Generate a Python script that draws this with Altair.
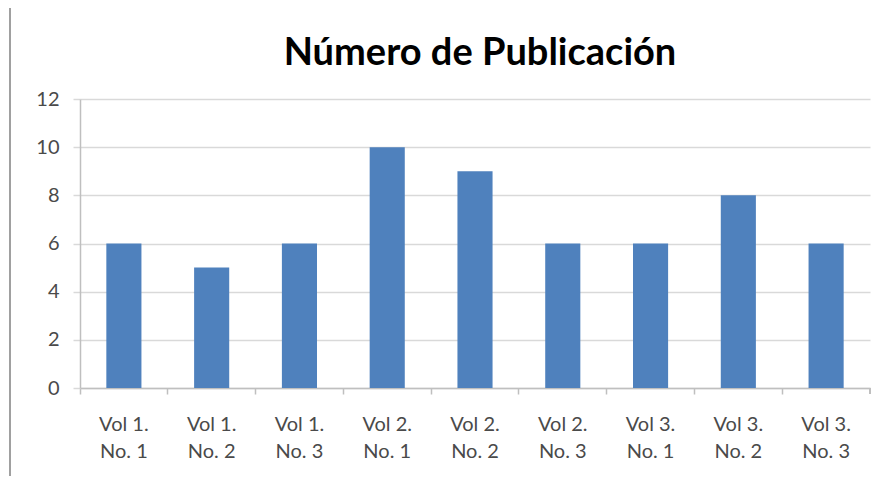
import altair as alt
import pandas as pd

categories = ["Vol 1. No. 1", "Vol 1. No. 2", "Vol 1. No. 3",
              "Vol 2. No. 1", "Vol 2. No. 2", "Vol 2. No. 3",
              "Vol 3. No. 1", "Vol 3. No. 2", "Vol 3. No. 3"]
values = [6, 5, 6, 10, 9, 6, 6, 8, 6]
y_ticks = [0, 2, 4, 6, 8, 10, 12]
title_text = "Número de Publicación"

df = pd.DataFrame({"cat": categories, "val": values})
title_df = pd.DataFrame({"t": [title_text]})

FONT = "Lato"
W, H = 790, 289

base = alt.Chart(df)

bars = base.mark_bar(color="#4F81BD", width=alt.RelativeBandSize(0.4)).encode(
    x=alt.X("cat:N", sort=categories, title=None,
            scale=alt.Scale(paddingInner=0, paddingOuter=0),
            axis=alt.Axis(labelAngle=0, bandPosition=0,
                          labelExpr="[slice(datum.value,0,6), slice(datum.value,7)]",
                          labelLineHeight=27, labelFontSize=20, labelFont=FONT,
                          labelColor="#4A4A4A", labelPadding=20,
                          tickSize=6, tickColor="#BFBFBF", tickWidth=1.5,
                          domainColor="#BFBFBF", domainWidth=1.5, grid=False)),
    y=alt.Y("val:Q", title=None,
            scale=alt.Scale(domain=[0, 12], nice=False),
            axis=alt.Axis(values=y_ticks, labelFontSize=20, labelFont=FONT,
                          labelColor="#4A4A4A", labelPadding=14,
                          tickSize=7, tickColor="#D9D9D9", tickWidth=1.5,
                          domainColor="#BFBFBF", domainWidth=1.5,
                          grid=True, gridColor="#D9D9D9", gridWidth=1.5)),
)

end_tick = base.mark_rule(color="#BFBFBF", strokeWidth=1.5).encode(
    x=alt.value(W), y=alt.value(H), y2=alt.value(H + 6)
)

frame = base.mark_rule(color="#A0A0A0", strokeWidth=2).encode(
    x=alt.value(-70), y=alt.value(-95), y2=alt.value(H + 120)
)

title = alt.Chart(title_df).mark_text(
    font=FONT, fontSize=38, fontWeight="bold", color="#000000",
    align="center", baseline="alphabetic"
).encode(text="t:N", x=alt.value(W / 2 + 5), y=alt.value(-34))

chart = alt.layer(bars, end_tick, frame, title).properties(
    width=W, height=H,
    autosize=alt.AutoSizeParams(type="none"),
    padding={"left": 72, "top": 91, "right": 5, "bottom": 88},
).configure_view(stroke=None)

chart.save("out.html", embed_options={"renderer": "svg", "actions": False})
